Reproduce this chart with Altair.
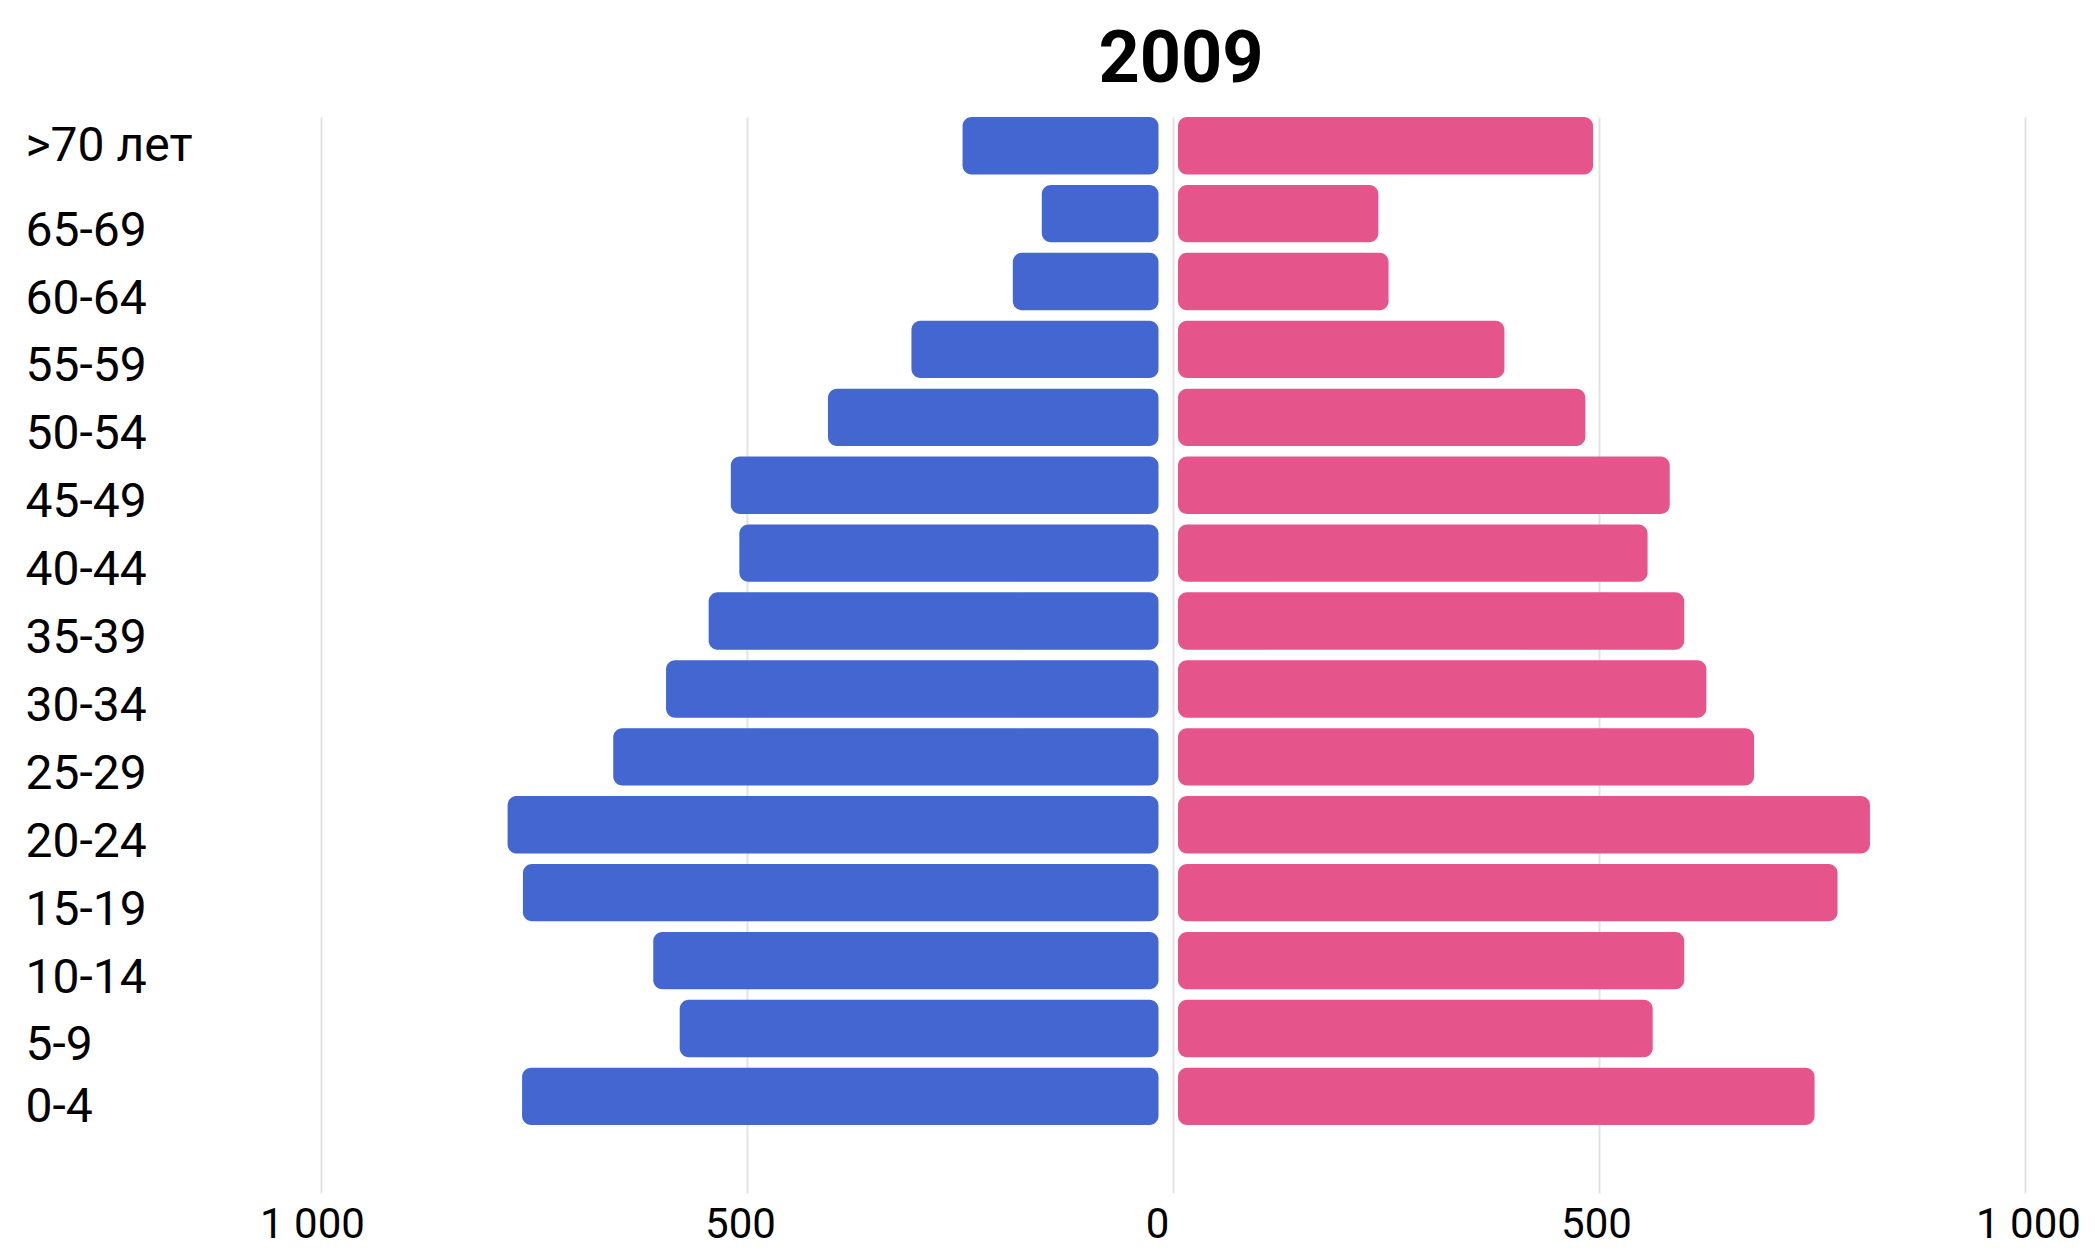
import altair as alt
import pandas as pd

ages = [">70 лет", "65-69", "60-64", "55-59", "50-54", "45-49", "40-44",
        "35-39", "30-34", "25-29", "20-24", "15-19", "10-14", "5-9", "0-4"]
male = [247, 154, 188, 307, 405, 519, 509, 545, 595, 657, 781, 763, 610, 579, 764]
female = [493, 241, 253, 389, 484, 583, 557, 600, 626, 682, 818, 780, 600, 563, 753]
x_ticks = [-1000, -500, 0, 500, 1000]
title_text = "2009"

BLUE = "#4366d0"
PINK = "#e5548b"

df = pd.DataFrame({"age": ages, "male": male, "female": female})

xscale = alt.Scale(domain=[-1000, 1000], nice=False, zero=False)
yscale = alt.Scale(domain=ages, paddingInner=0.155, paddingOuter=0.5, align=0)

y_axis = alt.Axis(
    title=None, domain=False, ticks=False, tickSize=0, grid=False,
    labelAlign="left", labelPadding=296, labelFont="Roboto", labelFontSize=48,
    labelColor="#000000", labelBaseline="middle",
    labelOffset={"condition": [
        {"test": f"datum.value === '{ages[0]}'", "value": 1},
        {"test": f"datum.value === '{ages[-1]}'", "value": 12}],
        "value": 18},
)

x_axis = alt.Axis(
    title=None, values=x_ticks, domain=False, ticks=False, tickSize=0,
    grid=True, gridColor="#e3e3e3", gridWidth=2, labelFlush=False,
    labelFont="Roboto", labelFontSize=42, labelColor="#000000",
    labelBaseline="alphabetic", labelPadding=44,
    labelExpr="replace(format(abs(datum.value), ','), ',', ' ')",
    labelOffset={"condition": [
        {"test": "datum.value === -1000", "value": -9},
        {"test": "datum.value === -500", "value": -7},
        {"test": "datum.value === 0", "value": -16},
        {"test": "datum.value === 500", "value": -3}],
        "value": 3},
)

base = alt.Chart(df)

left = base.transform_calculate(neg="-datum.male", zero="0").mark_bar(
    color=BLUE, cornerRadius=9, x2Offset=-14.5
).encode(
    y=alt.Y("age:N", sort=ages, scale=yscale, axis=y_axis),
    x=alt.X("neg:Q", scale=xscale, axis=x_axis),
    x2="zero:Q",
)

right = base.transform_calculate(zero="0").mark_bar(
    color=PINK, cornerRadius=9, xOffset=5
).encode(
    y=alt.Y("age:N", sort=ages, scale=yscale),
    x=alt.X("zero:Q", scale=xscale),
    x2="female:Q",
)

chart = alt.layer(left, right).properties(
    width=1704,
    height=1076,
    title=alt.TitleParams(
        title_text, fontSize=72, font="Roboto", fontWeight="bold",
        color="#000000", anchor="middle", baseline="alphabetic",
        offset=37, dx=8, dy=74,
    ),
    autosize=alt.AutoSizeParams(type="none"),
    padding={"left": 313, "top": 109, "right": 62, "bottom": 56},
).configure(font="Roboto", background="white").configure_view(strokeWidth=0, stroke=None)

chart.save("out.html", embed_options={"renderer": "svg", "actions": False})
